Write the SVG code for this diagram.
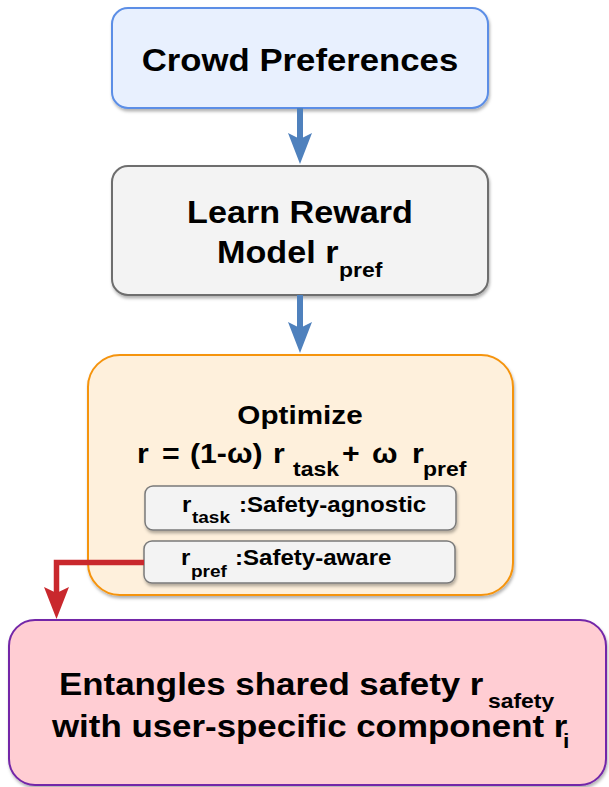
<svg xmlns="http://www.w3.org/2000/svg" width="609" height="787" viewBox="0 0 609 787">
<defs>
<filter id="sh" x="-10%" y="-10%" width="125%" height="130%">
<feDropShadow dx="1" dy="2.5" stdDeviation="1.8" flood-color="#000" flood-opacity="0.3"/>
</filter>
</defs>
<style>
text{font-family:"Liberation Sans",Arial,sans-serif;font-weight:bold;fill:#000}
.sub{font-size:20.5px}
.arB{fill:#4f81bd}
.arR{fill:#c9282d}
</style>
<rect width="609" height="787" fill="#ffffff"/>
<g id="crowd">
<rect x="112" y="8" width="376" height="100" rx="16" fill="#e8f0fe" stroke="#5b8ee6" stroke-width="2" filter="url(#sh)"/>
<g transform="scale(1.12 1)"><text x="267.86" y="71" font-size="31" text-anchor="middle">Crowd Preferences</text></g>
</g>
<g id="learn">
<rect x="112" y="166" width="376" height="129" rx="16" fill="#f3f3f3" stroke="#6e6e6e" stroke-width="2" filter="url(#sh)"/>
<g transform="scale(1.12 1)">
<text x="267.86" y="223" font-size="30.5" text-anchor="middle">Learn Reward</text>
<text y="263" font-size="30.5"><tspan x="193.75">Model r</tspan><tspan class="sub" x="302.7" y="277">pref</tspan></text>
</g>
</g>
<g id="optimize">
<rect x="88" y="355" width="425" height="240" rx="32" fill="#fef0dc" stroke="#f5940f" stroke-width="2" filter="url(#sh)"/>
<g transform="scale(1.12 1)">
<text x="267.86" y="424" font-size="26.5" text-anchor="middle">Optimize</text>
<text y="463" font-size="27"><tspan x="122.3">r</tspan><tspan x="144.6">=</tspan><tspan x="169.6">(1-ω)</tspan><tspan x="243.75">r</tspan><tspan class="sub" x="261.6" y="476">task</tspan><tspan x="305.4" y="463">+</tspan><tspan x="332.1">ω</tspan><tspan x="367.9">r</tspan><tspan class="sub" x="377.7" y="476">pref</tspan></text>
</g>
</g>
<g id="task">
<rect x="145" y="486" width="311" height="44" rx="8" fill="#f3f3f3" stroke="#7a7a7a" stroke-width="1.5" filter="url(#sh)"/>
<g transform="scale(1.12 1)">
<text y="512" font-size="21.5"><tspan x="162.5">r</tspan><tspan x="171.4" y="523" font-size="17">task</tspan><tspan x="213.4" y="512">:Safety-agnostic</tspan></text>
</g>
</g>
<g id="pref">
<rect x="144" y="541" width="311" height="42" rx="8" fill="#f3f3f3" stroke="#7a7a7a" stroke-width="1.5" filter="url(#sh)"/>
<g transform="scale(1.12 1)">
<text y="565" font-size="21.5"><tspan x="161.6">r</tspan><tspan x="170.5" y="577" font-size="17">pref</tspan><tspan x="209.8" y="565">:Safety-aware</tspan></text>
</g>
</g>
<g id="entangles">
<rect x="9" y="620" width="597" height="165" rx="26" fill="#ffcdd3" stroke="#7327a8" stroke-width="2" filter="url(#sh)"/>
<g transform="scale(1.144 1)">
<text y="695" font-size="30.5"><tspan x="51.57">Entangles shared safety r</tspan><tspan x="426.6" y="708" font-size="20">safety</tspan></text>
<text y="737" font-size="30.5"><tspan x="45.45">with user-specific component r</tspan><tspan x="492.1" y="748" font-size="20">i</tspan></text>
</g>
</g>
<g id="connectors">
<line x1="300" y1="108" x2="300" y2="140" stroke="#4f81bd" stroke-width="6"/>
<path class="arB" d="M300 164 L288 133 L300 139 L312 133 Z"/>
<line x1="300" y1="295" x2="300" y2="329" stroke="#4f81bd" stroke-width="6"/>
<path class="arB" d="M300 353 L288 322 L300 328 L312 322 Z"/>
<polyline points="144,562.5 56.5,562.5 56.5,593" fill="none" stroke="#c9282d" stroke-width="5.5"/>
<path class="arR" d="M56.5 619 L44 587 L56.5 593 L69 587 Z"/>
</g>
</svg>
